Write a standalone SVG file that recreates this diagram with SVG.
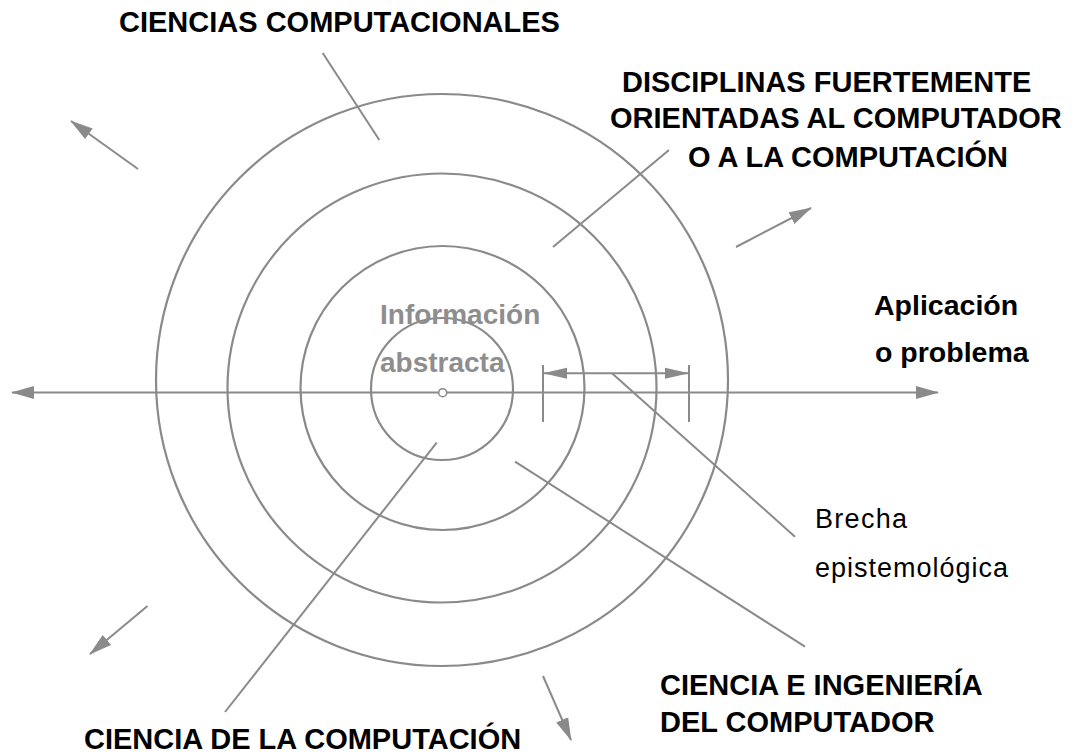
<svg xmlns="http://www.w3.org/2000/svg" width="1091" height="754" viewBox="0 0 1091 754">
  <style>
    .ring { fill: none; stroke: #8a8a8a; stroke-width: 2.2; }
    .ln { fill: none; stroke: #8a8a8a; stroke-width: 2; }
    .h { font-family: "Liberation Sans", Arial, sans-serif; font-weight: bold; font-size: 29px; fill: #000; }
    .s { font-family: "Liberation Sans", Arial, sans-serif; font-weight: bold; font-size: 28.5px; fill: #000; }
    .g { font-family: "Liberation Sans", Arial, sans-serif; font-weight: bold; font-size: 28px; fill: #8e8e8e; }
    .r { font-family: "Liberation Sans", Arial, sans-serif; font-size: 27px; fill: #000; }
  </style>
  <defs>
    <marker id="arr" markerUnits="userSpaceOnUse" markerWidth="23" markerHeight="14" refX="22" refY="7" orient="auto-start-reverse" viewBox="0 0 23 14">
      <path d="M0,0.5 L23,7 L0,13.5 Z" fill="#8a8a8a"/>
    </marker>
    <marker id="arrs" markerUnits="userSpaceOnUse" markerWidth="24" markerHeight="12" refX="23" refY="6" orient="auto-start-reverse" viewBox="0 0 24 12">
      <path d="M0,0.5 L24,6 L0,11.5 Z" fill="#8a8a8a"/>
    </marker>
  </defs>
  <rect width="1091" height="754" fill="#fff"/>

  <g id="ring-ciencias-computacionales">
    <circle class="ring" cx="442" cy="380" r="286"/>
  </g>
  <g id="ring-disciplinas">
    <circle class="ring" cx="442" cy="388" r="214.5"/>
  </g>
  <g id="ring-ciencia-ingenieria">
    <circle class="ring" cx="442.5" cy="388" r="142"/>
  </g>
  <g id="ring-ciencia-computacion">
    <circle class="ring" cx="442" cy="389" r="71"/>
  </g>

  <g id="connectors">
    <!-- main axis -->
    <line class="ln" x1="12" y1="392.5" x2="938" y2="392.5" marker-start="url(#arr)" marker-end="url(#arr)"/>
    <!-- radial expansion arrows -->
    <line class="ln" x1="138" y1="169" x2="71" y2="121" marker-end="url(#arr)"/>
    <line class="ln" x1="736" y1="247" x2="811" y2="208" marker-end="url(#arr)"/>
    <line class="ln" x1="147.5" y1="606" x2="90" y2="654" marker-end="url(#arr)"/>
    <line class="ln" x1="543" y1="676" x2="571" y2="740" marker-end="url(#arr)"/>
    <!-- leader lines -->
    <line class="ln" x1="322.7" y1="53" x2="379.3" y2="140"/>
    <line class="ln" x1="669" y1="150" x2="553" y2="247"/>
    <line class="ln" x1="436.7" y1="442.7" x2="225" y2="712"/>
    <line class="ln" x1="515" y1="461.7" x2="805" y2="646.7"/>
    <line class="ln" x1="612" y1="373.3" x2="795" y2="536.7"/>
    <!-- epistemological gap dimension -->
    <line class="ln" x1="543" y1="365" x2="543" y2="422"/>
    <line class="ln" x1="689" y1="365" x2="689" y2="422"/>
    <line class="ln" x1="544" y1="373.3" x2="688" y2="373.3" marker-start="url(#arrs)" marker-end="url(#arrs)"/>
  </g>

  <g id="center">
    <circle cx="442.7" cy="392.7" r="4" fill="#fff" stroke="#8a8a8a" stroke-width="1.6"/>
  </g>

  <g id="label-informacion">
    <text class="g" x="380" y="324">Información</text>
    <text class="g" x="380" y="372">abstracta</text>
  </g>
  <g id="label-ciencias-computacionales">
    <text class="h" x="119" y="32">CIENCIAS COMPUTACIONALES</text>
  </g>
  <g id="label-disciplinas">
    <text class="h" x="622" y="92">DISCIPLINAS FUERTEMENTE</text>
    <text class="h" x="610" y="128">ORIENTADAS AL COMPUTADOR</text>
    <text class="h" x="688" y="167">O A LA COMPUTACIÓN</text>
  </g>
  <g id="label-aplicacion">
    <text class="s" x="874" y="315">Aplicación</text>
    <text class="s" x="875" y="362">o problema</text>
  </g>
  <g id="label-brecha">
    <text class="r" x="815" y="528" textLength="92">Brecha</text>
    <text class="r" x="815" y="577" textLength="193">epistemológica</text>
  </g>
  <g id="label-ciencia-ingenieria">
    <text class="h" x="660" y="695">CIENCIA E INGENIERÍA</text>
    <text class="h" x="660" y="732">DEL COMPUTADOR</text>
  </g>
  <g id="label-ciencia-computacion">
    <text class="h" x="84" y="749">CIENCIA DE LA COMPUTACIÓN</text>
  </g>
</svg>
